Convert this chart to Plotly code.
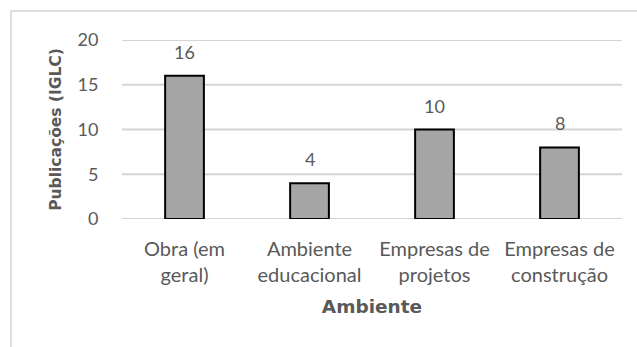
import plotly.graph_objects as go

# Publications per environment
categories = ["Obra (em<br>geral)", "Ambiente<br>educacional", "Empresas de<br>projetos", "Empresas de<br>construção"]
values = [16, 4, 10, 8]
y_ticks = [0, 5, 10, 15, 20]

TEXT = "#595959"
GRID = "#d4d4d4"

fig = go.Figure(
    go.Bar(
        x=categories,
        y=values,
        marker=dict(color="#a5a5a5", line=dict(color="#000000", width=2)),
        width=0.31,
    )
)

# Horizontal gridlines at each y tick, across the plot width
for t in y_ticks:
    fig.add_shape(
        type="line", xref="paper", yref="y",
        x0=0, x1=1, y0=t, y1=t,
        line=dict(color=GRID, width=2),
        layer="below",
    )

# Value labels above the bars
for cat, val in zip(categories, values):
    fig.add_annotation(
        x=cat, y=val, text=str(val),
        showarrow=False, yanchor="bottom", yshift=11,
        font=dict(family="Lato", size=18, color=TEXT),
    )

fig.update_layout(
    width=637,
    height=347,
    margin=dict(l=122, r=15, t=40, b=128),
    paper_bgcolor="white",
    plot_bgcolor="rgba(0,0,0,0)",
    showlegend=False,
    font=dict(family="Lato", color=TEXT),
    xaxis=dict(
        showgrid=False,
        showline=False,
        ticks="outside",
        ticklen=12,
        tickcolor="rgba(0,0,0,0)",
        tickfont=dict(family="Lato", size=20, color=TEXT),
        title=dict(text="<b>Ambiente</b>", font=dict(family="DejaVu Sans", size=18.5, color=TEXT), standoff=15),
    ),
    yaxis=dict(
        range=[0, 20],
        tickmode="array",
        tickvals=y_ticks,
        showgrid=False,
        zeroline=False,
        showline=False,
        ticks="outside",
        ticklen=19,
        tickcolor="rgba(0,0,0,0)",
        tickfont=dict(family="Lato", size=18, color=TEXT),
        title=dict(text="<b>Publicações (IGLC)</b>", font=dict(family="DejaVu Sans", size=15.5, color=TEXT), standoff=12),
    ),
)

# Light frame around the chart area
fig.add_shape(
    type="rect",
    xref="paper", yref="paper",
    x0=(11 - 122) / 500, x1=1.2,
    y0=-1.0, y1=(219 - 11) / 179,
    line=dict(color=GRID, width=1.5),
    layer="above",
)

fig.write_html("out.html")
